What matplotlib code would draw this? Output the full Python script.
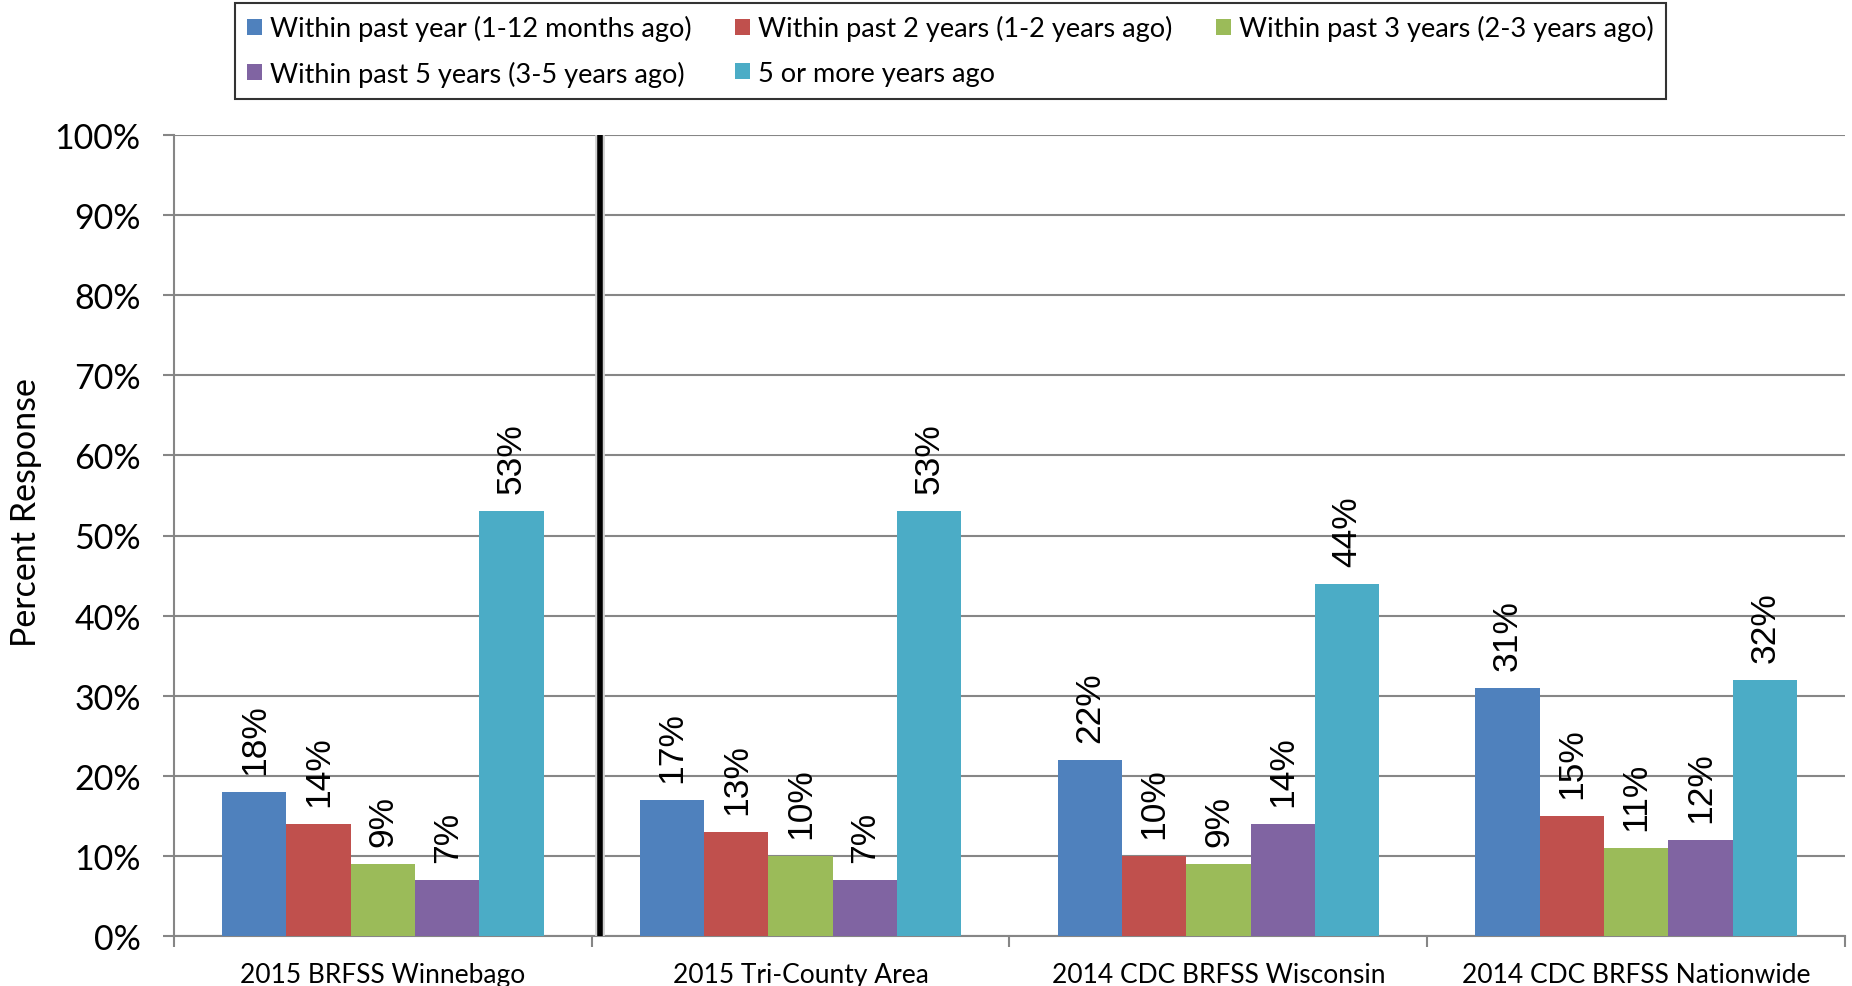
import matplotlib
matplotlib.use("Agg")
import matplotlib.pyplot as plt
import numpy as np
from matplotlib.ticker import FuncFormatter

categories = ["2015 BRFSS Winnebago", "2015 Tri-County Area",
              "2014 CDC BRFSS Wisconsin", "2014 CDC BRFSS Nationwide"]
series_names = ["Within past year (1-12 months ago)",
                "Within past 2 years (1-2 years ago)",
                "Within past 3 years (2-3 years ago)",
                "Within past 5 years (3-5 years ago)",
                "5 or more years ago"]
past_year = [18, 17, 22, 31]
past_2_years = [14, 13, 10, 15]
past_3_years = [9, 10, 9, 11]
past_5_years = [7, 7, 14, 12]
five_plus = [53, 53, 44, 32]
colors = ["#4F81BD", "#C0504D", "#9BBB59", "#8064A2", "#4BACC6"]
y_ticks = [0, 10, 20, 30, 40, 50, 60, 70, 80, 90, 100]

values = [past_year, past_2_years, past_3_years, past_5_years, five_plus]

FONT = ["Lato", "DejaVu Sans"]
LABEL_FONT = ["Liberation Sans", "DejaVu Sans"]
plt.rcParams["font.family"] = FONT

W, H = 1852, 987
fig = plt.figure(figsize=(W / 100, H / 100), dpi=100)
ax = fig.add_axes([174 / W, 1 - 937 / H, (1845 - 174) / W, (937 - 136) / H])

x = np.arange(len(categories))
bw = 1 / 6.5
handles = []
for i, (name, vals, c) in enumerate(zip(series_names, values, colors)):
    b = ax.bar(x + (i - 2) * bw, vals, width=bw, color=c, label=name, zorder=3)
    handles.append(b)
    ax.bar_label(b, labels=[f"{v}%" for v in vals], rotation=90, padding=13,
                 fontsize=25.5, family=LABEL_FONT, color="black")

ax.set_xlim(-0.5, len(categories) - 0.5)
ax.set_ylim(0, 100)
ax.set_yticks(y_ticks)
ax.yaxis.set_major_formatter(FuncFormatter(lambda v, p: f"{v:.0f}%"))
ax.tick_params(axis="y", labelsize=24.5, length=8, width=1.5, color="#868686", pad=16)
ax.grid(axis="y", color="#868686", linewidth=1.5, zorder=0)

ax.set_xticks(np.arange(len(categories) + 1) - 0.5)
ax.set_xticklabels([])
ax.set_xticks(x, minor=True)
ax.set_xticklabels(categories, minor=True, fontsize=19)
ax.tick_params(axis="x", which="major", length=8, width=1.5, color="#868686")
ax.tick_params(axis="x", which="minor", length=0, pad=19)

for s in ["top", "right"]:
    ax.spines[s].set_visible(False)
for s in ["left", "bottom"]:
    ax.spines[s].set_color("#868686")
    ax.spines[s].set_linewidth(1.5)

ax.axvline(0.52, color="#d0d0d0", linewidth=7, zorder=4)
ax.axvline(0.52, color="black", linewidth=4, zorder=5)

ax.set_ylabel("Percent Response", fontsize=24.5)
ax.yaxis.set_label_coords(-0.079, 0.53)

# legend filled row-wise like the reference (matplotlib fills column-wise)
order = [0, 3, 1, 4, 2]
leg = fig.legend(handles=[handles[k] for k in order],
                 labels=[series_names[k] for k in order], ncol=3,
                 loc="upper left", bbox_to_anchor=(235 / W, 1 - 4 / H),
                 fontsize=19.5, frameon=True, fancybox=False, edgecolor="black",
                 handlelength=0.55, handleheight=0.55, handletextpad=0.3,
                 columnspacing=1.6, borderpad=0.45, labelspacing=0.72,
                 borderaxespad=0)
leg.get_frame().set_linewidth(1.5)

fig.savefig("out.png", dpi=100)
